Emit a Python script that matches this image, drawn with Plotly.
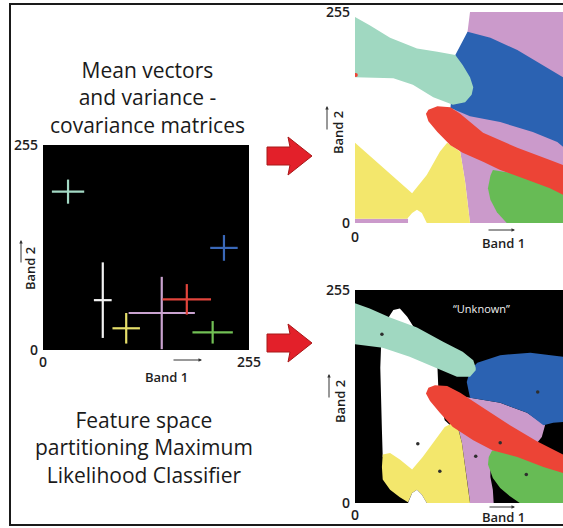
import plotly.graph_objects as go

W, H = 563, 528

# ---------------- data (band values, 0-255) ----------------
classes = ["Teal", "Blue", "White", "Yellow", "Pink", "Red", "Green"]
class_colors = ["#a3d9c4", "#3a68b8", "#f2f2f2", "#e6df6a", "#c9a2cf", "#e2453c", "#72c055"]
mean_b1 = [31, 224, 74, 103, 147, 178, 210]
mean_b2 = [197, 127, 62, 27, 46, 63, 22]
sd_b1 = [20, 17, 11, 17, 41, 30, 25]
sd_b2 = [15, 16, 47, 19, 45, 19, 14]

# class centres as marked in the MLC panel
centre_b1 = [33, 224, 77, 104, 148, 178, 210]
centre_b2 = [202, 133, 71, 38, 56, 72, 34]

tick_vals = [0, 255]
tick_text = ["0", "255"]

# region colours
c_teal, c_blue, c_pink = "#a0d8c1", "#2b62b2", "#cb9acb"
c_red, c_yellow, c_green, c_white = "#ec4436", "#f3e76c", "#67bb55", "#ffffff"

# --- partition without threshold (top right) ---
pink_x = [141, 255, 255, 141, 138, 135, 129, 119, 121, 125, 127, 138]
pink_y = [255, 255, 0, 0, 25, 50, 86, 106, 125, 150, 197, 231]
pink_strip_x = [0, 65, 65, 0]
pink_strip_y = [5, 5, 0, 0]
blue_x = [138, 166, 199, 227, 255, 255, 248, 218, 178, 141, 117, 123]
blue_y = [231, 224, 209, 193, 176, 92, 98, 110, 122, 129, 139, 203]
teal_x = [0, 18, 43, 76, 101, 123, 132, 141, 145, 143, 135, 120, 96, 71, 47, 18, 0]
teal_y = [249, 239, 224, 211, 207, 203, 191, 176, 164, 155, 146, 143, 152, 167, 175, 176, 176]
yellow_x = [0, 70, 88, 104, 113, 120, 129, 135, 138, 141, 88, 82, 76, 70, 64, 0]
yellow_y = [97, 36, 58, 86, 97, 92, 86, 50, 25, 0, 0, 12, 16, 12, 5, 5]
green_x = [169, 206, 255, 255, 186, 174, 166, 163, 166]
green_y = [64, 58, 40, 0, 0, 13, 28, 42, 57]
red_x = [90, 101, 117, 129, 157, 199, 239, 255, 255, 239, 206, 178, 157, 132, 117, 101, 90, 87]
red_y = [137, 141, 140, 132, 109, 91, 76, 70, 34, 42, 54, 64, 74, 85, 94, 110, 123, 132]
red_speck_x = [1]
red_speck_y = [179]

# --- maximum likelihood partition with threshold (bottom right) ---
bwhite_x = [43, 47, 55, 64, 80, 101, 102, 104, 110, 118, 100, 83, 70, 55, 43, 34, 33, 32, 31, 32, 34]
bwhite_y = [225, 231, 233, 223, 198, 165, 141, 123, 99, 92, 72, 50, 36, 48, 55, 55, 87, 115, 162, 189, 210]
bpink_x = [123, 141, 178, 211, 233, 229, 221, 178, 166, 166, 169, 170, 141, 139, 135, 131, 125, 117]
bpink_y = [129, 126, 120, 108, 93, 79, 69, 60, 56, 31, 16, 0, 0, 16, 43, 72, 96, 111]
bblue_x = [141, 150, 178, 215, 255, 255, 243, 231, 211, 178, 141, 137]
bblue_y = [159, 168, 177, 180, 175, 97, 96, 93, 108, 120, 126, 145]
bteal_x = [0, 18, 43, 76, 108, 132, 145, 148, 148, 141, 125, 96, 67, 34, 10, 0]
bteal_y = [239, 233, 222, 210, 193, 181, 171, 162, 159, 151, 151, 163, 175, 186, 189, 190]
byellow_x = [34, 43, 55, 70, 83, 98, 110, 120, 126, 131, 135, 139, 141, 88, 82, 76, 70, 65, 55, 43, 34, 33]
byellow_y = [58, 60, 52, 40, 55, 75, 91, 96, 91, 72, 43, 16, 0, 0, 10, 16, 12, 1, 7, 16, 28, 43]
bgreen_x = [168, 202, 233, 255, 255, 202, 190, 178, 169, 163, 164]
bgreen_y = [63, 58, 48, 42, 0, 0, 8, 18, 30, 46, 55]
bred_x = [90, 98, 113, 129, 157, 190, 223, 248, 255, 255, 231, 199, 169, 145, 120, 104, 92, 87]
bred_y = [138, 141, 140, 132, 114, 93, 74, 62, 58, 36, 43, 55, 63, 75, 91, 108, 122, 131]
bbump_x = [65, 70, 76, 82, 88]
bbump_y = [0, 12, 16, 10, 0]

# ---------------- figure ----------------
def px(x):
    return x / W


def py(y):
    return 1 - y / H


fig = go.Figure()


def region(xs, ys, color, xa, ya):
    fig.add_trace(go.Scatter(
        x=xs, y=ys, mode="lines", fill="toself", fillcolor=color,
        line=dict(width=0, color=color), hoverinfo="skip", showlegend=False,
        xaxis=xa, yaxis=ya))


# left panel: mean vectors + variance crosses
for i, name in enumerate(classes):
    fig.add_trace(go.Scatter(
        x=[mean_b1[i]], y=[mean_b2[i]], mode="markers", name=name,
        marker=dict(size=2, color=class_colors[i]),
        error_x=dict(type="data", array=[sd_b1[i]], color=class_colors[i], thickness=2.2, width=0),
        error_y=dict(type="data", array=[sd_b2[i]], color=class_colors[i], thickness=2.2, width=0),
        showlegend=False, hoverinfo="skip", xaxis="x", yaxis="y"))

# top right
region(pink_x, pink_y, c_pink, "x2", "y2")
region(pink_strip_x, pink_strip_y, c_pink, "x2", "y2")
region(blue_x, blue_y, c_blue, "x2", "y2")
region(teal_x, teal_y, c_teal, "x2", "y2")
region(yellow_x, yellow_y, c_yellow, "x2", "y2")
region(green_x, green_y, c_green, "x2", "y2")
region(red_x, red_y, c_red, "x2", "y2")
fig.add_trace(go.Scatter(x=red_speck_x, y=red_speck_y, mode="markers",
                         marker=dict(size=4, color=c_red), cliponaxis=True,
                         showlegend=False, hoverinfo="skip", xaxis="x2", yaxis="y2"))

# bottom right
region(bwhite_x, bwhite_y, c_white, "x3", "y3")
region(bpink_x, bpink_y, c_pink, "x3", "y3")
region(bblue_x, bblue_y, c_blue, "x3", "y3")
region(bteal_x, bteal_y, c_teal, "x3", "y3")
region(byellow_x, byellow_y, c_yellow, "x3", "y3")
region(bgreen_x, bgreen_y, c_green, "x3", "y3")
region(bred_x, bred_y, c_red, "x3", "y3")
region(bbump_x, bbump_y, c_white, "x3", "y3")
fig.add_trace(go.Scatter(x=centre_b1, y=centre_b2, mode="markers",
                         marker=dict(size=3.5, color="#2e2e2e"),
                         showlegend=False, hoverinfo="skip", xaxis="x3", yaxis="y3"))

tickfont = dict(family="Open Sans", size=14, color="#1e1e1e", weight=600)


def axis(domain, **kw):
    d = dict(domain=domain, range=[0, 255], showgrid=False, zeroline=False,
             showline=False, ticks="", tickvals=tick_vals, ticktext=tick_text,
             tickfont=tickfont, fixedrange=True, automargin=False)
    d.update(kw)
    return d


fig.update_layout(
    width=W, height=H, autosize=False,
    margin=dict(l=0, r=0, t=0, b=0, pad=0),
    paper_bgcolor="white", plot_bgcolor="white",
    showlegend=False,
    xaxis=axis([px(43), px(249)], anchor="y", ticklabelstandoff=2),
    yaxis=axis([py(350), py(145)], anchor="x", ticklabelstandoff=4),
    xaxis2=axis([px(355), 1.0], anchor="y2", ticklabelstandoff=4),
    yaxis2=axis([py(223), py(12)], anchor="x2", ticklabelstandoff=4),
    xaxis3=axis([px(355), 1.0], anchor="y3", ticklabelstandoff=2),
    yaxis3=axis([py(503), py(290)], anchor="x3", ticklabelstandoff=4),
)

shapes = []
# black panel backgrounds
for xr, yr in (("x", "y"), ("x3", "y3")):
    shapes.append(dict(type="rect", xref=f"{xr} domain", yref=f"{yr} domain",
                       x0=0, x1=1, y0=0, y1=1, fillcolor="black",
                       line=dict(width=0), layer="below"))
# outer frame
shapes.append(dict(type="rect", xref="paper", yref="paper",
                   x0=px(10), x1=px(575), y0=py(525), y1=py(4),
                   line=dict(color="#1a1a1a", width=2), fillcolor="rgba(0,0,0,0)"))


# red block arrows
def block_arrow(cy):
    pts = [(267, cy - 9), (290, cy - 9), (288, cy - 19), (312, cy),
           (288, cy + 19), (290, cy + 9), (267, cy + 9)]
    path = "M " + " L ".join(f"{px(a):.5f},{py(b):.5f}" for a, b in pts) + " Z"
    return dict(type="path", xref="paper", yref="paper", path=path,
                fillcolor="#e3202a", line=dict(color="#a81818", width=1))


shapes.append(block_arrow(156))
shapes.append(block_arrow(343))
fig.update_layout(shapes=shapes)

ann = []
text_font = dict(family="Open Sans", size=21, color="#1a1a1a", weight=500)
ann.append(dict(text="Mean vectors<br>and variance -<br>covariance matrices",
                x=px(147), y=py(97), xref="paper", yref="paper", align="center",
                showarrow=False, xanchor="center", yanchor="middle", font=text_font))
ann.append(dict(text="Feature space<br>partitioning Maximum<br>Likelihood Classifier",
                x=px(144), y=py(447), xref="paper", yref="paper", align="center",
                showarrow=False, xanchor="center", yanchor="middle", font=text_font))

lab_font = dict(family="Open Sans", size=13, color="#1e1e1e", weight=600)
# Band 1 labels + arrows
for cx, cy, ax0, ax1, ay in ((166, 377, 172, 202, 360), (503, 243, 487, 515, 230), (503, 517, 488, 515, 507)):
    ann.append(dict(text="Band 1", x=px(cx), y=py(cy), xref="paper", yref="paper",
                    showarrow=False, xanchor="center", yanchor="middle", font=lab_font))
    ann.append(dict(text="", x=px(ax1), y=py(ay), xref="paper", yref="paper",
                    ax=ax0 - ax1, ay=0, showarrow=True, arrowhead=2, arrowsize=0.7,
                    arrowwidth=1, arrowcolor="#333"))
# Band 2 labels + arrows
for cx, cy, axx, atop, abot in ((30, 268, 21, 240, 264), (338, 133, 327, 106, 131), (340, 402, 329, 374, 399)):
    ann.append(dict(text="Band 2", x=px(cx), y=py(cy), xref="paper", yref="paper",
                    showarrow=False, textangle=-90, xanchor="center", yanchor="middle", font=lab_font))
    ann.append(dict(text="", x=px(axx), y=py(atop), xref="paper", yref="paper",
                    ax=0, ay=abot - atop, showarrow=True, arrowhead=2, arrowsize=0.7,
                    arrowwidth=1, arrowcolor="#333"))

ann.append(dict(text="\u201cUnknown\u201d", x=px(481), y=py(308), xref="paper", yref="paper",
                showarrow=False, xanchor="center", yanchor="middle",
                font=dict(family="Open Sans", size=11, color="#f0f0f0")))
fig.update_layout(annotations=ann)

fig.write_html("out.html", config={"displayModeBar": False},
               post_script="document.body.style.margin='0';document.body.style.overflow='hidden';")
